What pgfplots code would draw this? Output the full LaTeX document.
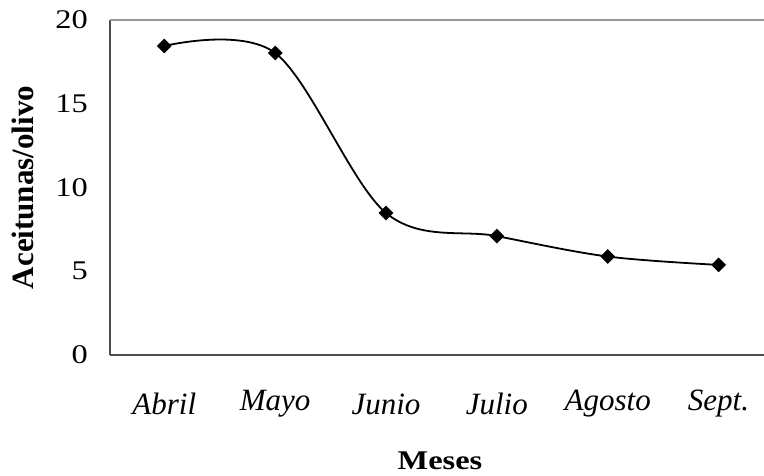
\documentclass[border=0pt]{standalone}
\usepackage{fontspec}
\setmainfont{Liberation Serif}
\usepackage{pgfplots}
\pgfplotsset{compat=1.18}

\begin{document}
\begin{tikzpicture}[x=1pt,y=1pt]
  % page = 764 x 475, axis origin at (110,120) from lower left
  \useasboundingbox (-110,-120) rectangle (654,355);
  \begin{axis}[
    at={(0,0)}, anchor=south west,
    scale only axis,
    width=654pt, height=335pt,
    xmin=-0.49, xmax=5.41,
    ymin=0, ymax=20,
    ytick={0,5,10,15,20},
    xtick={0,1,2,3,4,5},
    xticklabels={Abril,Mayo,Junio,Julio,Agosto,Sept.},
    axis x line*=bottom,
    axis y line*=left,
    axis line style={draw=black!70, line width=1.4pt},
    major tick length=0pt,
    /pgf/number format/assume math mode=true,
    xticklabel style={anchor=center, yshift=-49pt, inner sep=0pt,
      font=\fontsize{31}{34}\selectfont\itshape},
    yticklabel style={anchor=east, xshift=-22pt, inner sep=0pt, xscale=1.2,
      font=\fontsize{27}{30}\selectfont},
    xlabel={Meses},
    ylabel={Aceitunas/olivo},
    xlabel style={at={(axis description cs:0.5046,-0.3164)}, anchor=center,
      inner sep=0pt, xscale=1.2, font=\fontsize{27}{30}\selectfont\bfseries},
    ylabel style={at={(axis description cs:-0.1338,0.5)}, anchor=center,
      inner sep=0pt, font=\fontsize{31}{34}\selectfont\bfseries},
    clip=false,
  ]
    \addplot[black, line width=1.8pt, smooth, tension=0.55,
      mark=square*, mark size=4.3pt, mark options={solid, fill=black, rotate=45}]
      coordinates {
        (0,18.45) (1,18.03) (2,8.48) (3,7.10) (4,5.88) (5,5.38)
      };
    \draw[draw=black!40, line width=1.4pt] (rel axis cs:0,1) -- (rel axis cs:1,1);
  \end{axis}
\end{tikzpicture}
\end{document}
